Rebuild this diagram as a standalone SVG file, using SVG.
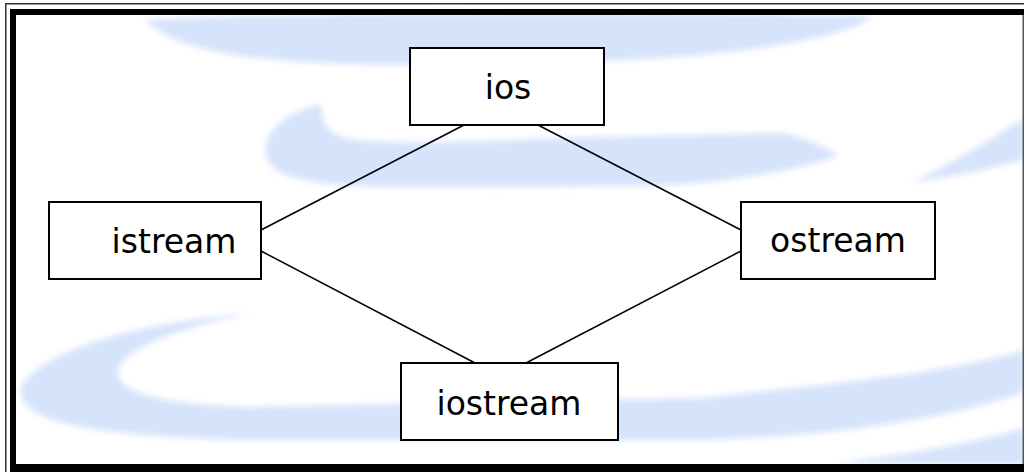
<svg xmlns="http://www.w3.org/2000/svg" width="1024" height="472" viewBox="0 0 1024 472">
<style>
.swoosh{fill:#d5e3fb;filter:url(#soft)}
.node rect{fill:#ffffff;stroke:#000000;stroke-width:2}
.node text{font-family:"DejaVu Sans","Liberation Sans",sans-serif;font-size:33px;fill:#000000;text-anchor:middle}
.conn line{stroke:#000000;stroke-width:1.5}
</style>
<defs>
<filter id="soft" x="-5%" y="-20%" width="110%" height="140%"><feGaussianBlur stdDeviation="3"/></filter>
</defs>
<rect x="0" y="0" width="1024" height="472" fill="#ffffff"/>
<g id="background">
<path class="swoosh" d="M145,20 C300,12 600,12 872,16 C860,30 800,45 700,55 C560,66 420,68 300,62 C220,56 170,45 145,20 Z"/>
<path class="swoosh" d="M322,104 C285,112 262,132 266,155 C270,178 310,186 400,187 L640,186 C720,184 790,172 838,156 C830,148 800,136 780,133 L560,138 C470,142 380,145 345,138 C325,132 320,118 322,104 Z"/>
<path class="swoosh" d="M912,182 C950,165 990,140 1024,118 L1024,160 C990,168 950,178 912,182 Z"/>
<path class="swoosh" d="M252,313 C150,322 50,345 22,385 C12,420 80,436 250,440 L700,440 C850,436 960,415 1024,392 L1024,350 C960,370 860,382 700,398 L250,407 C165,405 115,392 118,372 C122,348 180,328 252,313 Z"/>
<path class="swoosh" d="M830,464 C900,455 970,445 1024,428 L1024,464 Z"/>
</g>
<g id="frame">
<rect x="5" y="3" width="1019" height="1.5" fill="#333333"/>
<rect x="5" y="3" width="1.5" height="469" fill="#333333"/>
<rect x="10" y="9" width="1014" height="6" fill="#000000"/>
<rect x="10" y="9" width="6" height="463" fill="#000000"/>
<rect x="10" y="464" width="1014" height="8" fill="#000000"/>
<rect x="1022.5" y="15" width="1.5" height="449" fill="#555555"/>
</g>
<g id="connectors" class="conn">
<line x1="464" y1="125" x2="261" y2="230"/>
<line x1="538" y1="125" x2="741" y2="230"/>
<line x1="261" y1="251" x2="475" y2="363"/>
<line x1="741" y1="251" x2="526" y2="363"/>
</g>
<g id="node-ios" class="node">
<rect x="410" y="48" width="194" height="77"/>
<text x="508" y="99">ios</text>
</g>
<g id="node-istream" class="node">
<rect x="49" y="202" width="212" height="77"/>
<text x="174" y="253">istream</text>
</g>
<g id="node-ostream" class="node">
<rect x="741" y="202" width="194" height="77"/>
<text x="838" y="252">ostream</text>
</g>
<g id="node-iostream" class="node">
<rect x="401" y="363" width="217" height="77"/>
<text x="509" y="415">iostream</text>
</g>
</svg>
